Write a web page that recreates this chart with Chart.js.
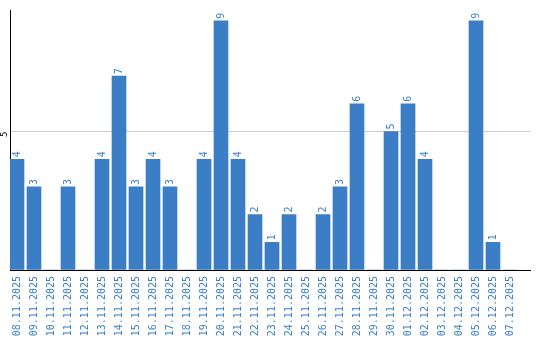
<!DOCTYPE html>
<html lang="en">
<head>
    <meta charset="UTF-8">
    <title>Daily counts</title>
    <script src="https://cdn.jsdelivr.net/npm/chart.js@4.4.1/dist/chart.umd.min.js"></script>
    <style>
        * { margin: 0; padding: 0; box-sizing: border-box; }
        body { background: #fff; width: 540px; height: 340px; overflow: hidden; }
    </style>
</head>
<body>
    <canvas id="chart" width="540" height="340"></canvas>

    <script>
        // Dates along the x axis
        const dates = [
            '08.11.2025', '09.11.2025', '10.11.2025', '11.11.2025', '12.11.2025',
            '13.11.2025', '14.11.2025', '15.11.2025', '16.11.2025', '17.11.2025',
            '18.11.2025', '19.11.2025', '20.11.2025', '21.11.2025', '22.11.2025',
            '23.11.2025', '24.11.2025', '25.11.2025', '26.11.2025', '27.11.2025',
            '28.11.2025', '29.11.2025', '30.11.2025', '01.12.2025', '02.12.2025',
            '03.12.2025', '04.12.2025', '05.12.2025', '06.12.2025', '07.12.2025'
        ];

        // Count per day
        const counts = [
            4, 3, 0, 3, 0,
            4, 7, 3, 4, 3,
            0, 4, 9, 4, 2,
            1, 2, 0, 2, 3,
            6, 0, 5, 6, 4,
            0, 0, 9, 1, 0
        ];

        // Only labelled y tick
        const yTicks = [5];

        const blue = '#3b7ec6';
        const monoFont = "'DejaVu Sans Mono', monospace";

        // Writes the value vertically above each non-empty bar
        const valueLabels = {
            id: 'valueLabels',
            afterDatasetsDraw(chart) {
                const ctx = chart.ctx;
                const meta = chart.getDatasetMeta(0);
                ctx.save();
                ctx.fillStyle = blue;
                ctx.font = '10px ' + monoFont;
                ctx.textAlign = 'left';
                ctx.textBaseline = 'middle';
                meta.data.forEach((bar, i) => {
                    if (!counts[i]) return;
                    ctx.save();
                    ctx.translate(bar.x, bar.y - 2);
                    ctx.rotate(-Math.PI / 2);
                    ctx.fillText(String(counts[i]), 0, 0);
                    ctx.restore();
                });
                ctx.restore();
            }
        };

        new Chart(document.getElementById('chart'), {
            type: 'bar',
            data: {
                datasets: [{
                    data: counts.map((v, i) => ({ x: i, y: v })),
                    backgroundColor: blue,
                    borderWidth: 0,
                    barThickness: 14
                }]
            },
            options: {
                responsive: false,
                animation: false,
                layout: { padding: { top: 10, right: 10, left: 0, bottom: 0 } },
                plugins: {
                    legend: { display: false },
                    tooltip: { enabled: false }
                },
                scales: {
                    x: {
                        type: 'linear',
                        offset: false,
                        min: -7 / 17,
                        max: -7 / 17 + 520 / 17,
                        afterFit: (scale) => {
                            scale.height = 70;
                            scale.paddingLeft = 0;
                            scale.paddingRight = 0;
                        },
                        grid: { display: false },
                        border: { display: true, color: '#000', width: 1 },
                        ticks: {
                            stepSize: 1,
                            autoSkip: false,
                            includeBounds: false,
                            minRotation: 90,
                            maxRotation: 90,
                            padding: -2,
                            color: blue,
                            font: { family: monoFont, size: 10 },
                            callback: (v) => (Number.isInteger(v) && dates[v]) ? dates[v] : ''
                        }
                    },
                    y: {
                        min: 0,
                        max: 9.375,
                        afterFit: (scale) => { scale.width = 10; },
                        afterBuildTicks: (scale) => {
                            scale.ticks = [0].concat(yTicks).map(v => ({ value: v }));
                        },
                        grid: {
                            drawTicks: false,
                            color: (c) => yTicks.includes(c.tick && c.tick.value) ? '#cccccc' : 'rgba(0,0,0,0)'
                        },
                        border: { display: true, color: '#000', width: 1 },
                        ticks: {
                            minRotation: 90,
                            maxRotation: 90,
                            padding: 5,
                            color: '#000',
                            font: { family: monoFont, size: 9 },
                            callback: (v) => yTicks.includes(v) ? String(v) : ''
                        }
                    }
                }
            },
            plugins: [valueLabels]
        });
    </script>
</body>
</html>
